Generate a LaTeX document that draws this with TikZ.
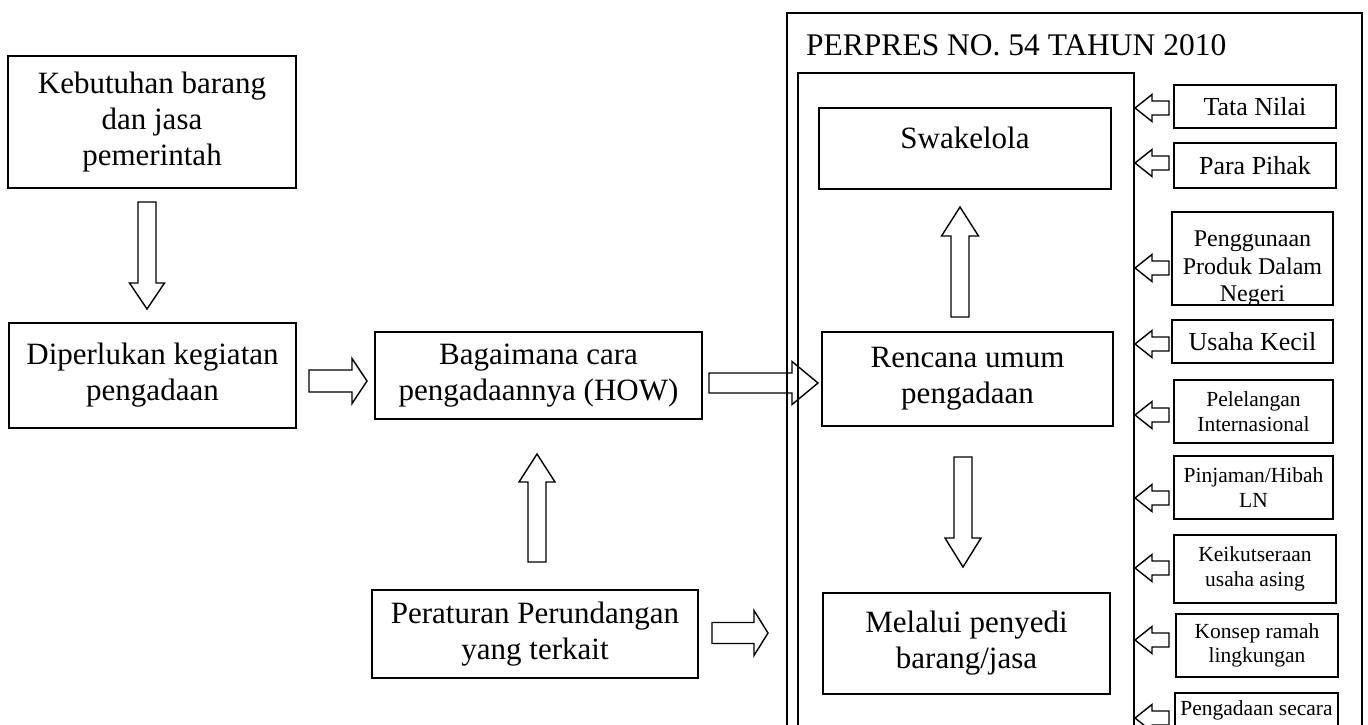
\documentclass[tikz,border=0pt]{standalone}
\usepackage{fontspec}
\setmainfont{Liberation Serif}
\newcommand{\blkarrow}[7]{% x y angle length shaftw headw headlen
  \draw[blk,shift={(#1,#2)},rotate=#3] (0,-#5/2) -- (#4-#7,-#5/2) -- (#4-#7,-#6/2) -- (#4,0) -- (#4-#7,#6/2) -- (#4-#7,#5/2) -- (0,#5/2) -- cycle;}
\begin{document}
\begin{tikzpicture}[x=1pt,y=-1pt,
  box/.style={draw, line width=1.8pt, inner sep=0pt, align=center},
  blk/.style={draw, line width=1.4pt, line join=miter},
  big/.style={font=\fontsize{31}{36}\selectfont},
  ttl/.style={font=\fontsize{31.5}{36}\selectfont},
  mid/.style={font=\fontsize{26}{30}\selectfont},
  med/.style={font=\fontsize{24}{27.5}\selectfont},
  sml/.style={font=\fontsize{21.5}{24.5}\selectfont}]
\useasboundingbox (0,0) rectangle (1368,724);

% left part
\node[box, big, minimum width=288pt, minimum height=132pt] (keb) at (152,122) {Kebutuhan barang\\dan jasa\\pemerintah};
\node[box, big, minimum width=287pt, minimum height=105pt] (dip) at (152.5,375.5) {Diperlukan kegiatan\\pengadaan};
\node[box, big, minimum width=327pt, minimum height=87pt] (how) at (538.5,375.5) {Bagaimana cara\\pengadaannya (HOW)};
\node[box, big, minimum width=326pt, minimum height=88pt] (per) at (535,634) {Peraturan Perundangan\\yang terkait};

% PERPRES frame
\node[box, anchor=north west, minimum width=575pt, minimum height=800pt] (outer) at (786,12) {};
\node[ttl, anchor=base west, inner sep=0pt] (title) at (806,55) {PERPRES NO. 54 TAHUN 2010};
\node[box, anchor=north west, minimum width=336pt, minimum height=800pt] (inner) at (797,72) {};

\node[box, big, anchor=north, minimum width=292pt, text height=41pt, text depth=40pt] (swa) at (965,107) {Swakelola};
\node[box, big, minimum width=291pt, minimum height=94pt] (ren) at (967.5,379) {Rencana umum\\pengadaan};
\node[box, big, minimum width=287pt, minimum height=101pt] (mel) at (966.5,643.5) {Melalui penyedi\\barang/jasa};

% right column
\node[box, mid, minimum width=162pt, minimum height=43pt] (tata) at (1255,106.5) {Tata Nilai};
\node[box, mid, minimum width=162pt, minimum height=45pt] (para) at (1255,165.5) {Para Pihak};
\node[box, minimum width=161pt, minimum height=93pt] (pgn) at (1252.5,258.5) {};
\begin{scope}
  \clip (pgn.south west) rectangle (pgn.north east);
  \node[med, align=center, inner sep=0pt] (pgnt) at (1252.5,269) {Penggunaan\\Produk Dalam\\Negeri};
\end{scope}
\node[box, mid, minimum width=161pt, minimum height=43pt] (usaha) at (1252.5,341.5) {Usaha Kecil};
\node[box, sml, minimum width=159pt, minimum height=63pt] (pele) at (1253.5,411.5) {Pelelangan\\Internasional};
\node[box, sml, minimum width=159pt, minimum height=63pt] (pinj) at (1253.5,487.5) {Pinjaman/Hibah\\LN};
\node[box, sml, minimum width=162pt, minimum height=68pt] (keik) at (1255,569) {Keikutseraan\\usaha asing};
\node[box, sml, minimum width=162pt, minimum height=63pt] (kons) at (1257,645.5) {Konsep ramah\\lingkungan};
\node[box, anchor=north, minimum width=163pt, minimum height=108pt] (pse) at (1256.5,692) {};
\node[sml, inner sep=0pt, anchor=north] (pset) at (1256.5,700) {Pengadaan secara};

% block arrows
\blkarrow{147}{202}{-90}{107}{18}{35}{26}
\blkarrow{309}{381}{0}{58}{22}{45}{15}
\blkarrow{709}{383}{0}{109}{20}{43}{26}
\blkarrow{537}{562}{90}{108}{18}{36}{28}
\blkarrow{712}{633}{0}{56}{21}{45}{14}
\blkarrow{960}{317}{90}{110}{18}{37}{29}
\blkarrow{963}{457}{-90}{110}{18}{36}{29}
\foreach \yy in {108,163,268,344,415,498,568,640,718}{
  \blkarrow{1169}{\yy}{180}{34}{14}{27}{17}
}
\end{tikzpicture}
\end{document}
